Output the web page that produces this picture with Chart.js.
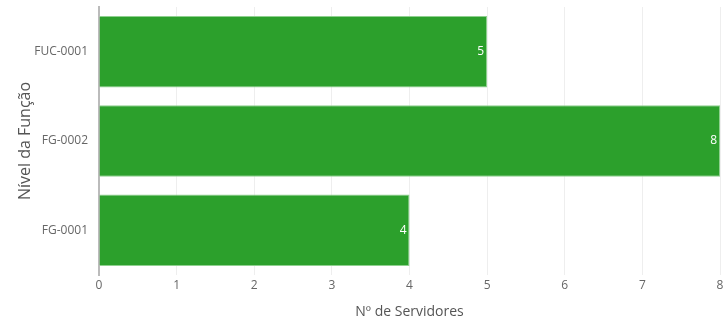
<!DOCTYPE html>
<html lang="pt">
  <head>
    <meta charset="UTF-8" />
    <title>Nº de Servidores por Nível da Função</title>
    <script src="https://cdn.jsdelivr.net/npm/chart.js"></script>
    <style>
      body {
        margin: 0;
        background: #fff;
      }
      .wrap {
        width: 725px;
        height: 320px;
      }
    </style>
  </head>
  <body>
    <div class="wrap"><canvas id="chart"></canvas></div>
    <script>
      const niveis = ["FUC-0001", "FG-0002", "FG-0001"];
      const servidores = [5, 8, 4];
      const xTicks = [0, 1, 2, 3, 4, 5, 6, 7, 8];

      const fontFamily = "'Open Sans', sans-serif";

      // white value labels at the end of each bar
      const valueLabels = {
        id: "valueLabels",
        afterDatasetsDraw(chart) {
          const ctx = chart.ctx;
          const meta = chart.getDatasetMeta(0);
          ctx.save();
          ctx.fillStyle = "#ffffff";
          ctx.font = "12px " + fontFamily;
          ctx.textAlign = "right";
          ctx.textBaseline = "middle";
          meta.data.forEach((bar, i) => {
            ctx.fillText(String(servidores[i]), bar.x - 3, bar.y);
          });
          ctx.restore();
        },
      };

      new Chart(document.getElementById("chart"), {
        type: "bar",
        data: {
          labels: niveis,
          datasets: [
            {
              data: servidores,
              backgroundColor: "#2ca02c",
              borderColor: "#8fd08f",
              borderWidth: 1,
              barPercentage: 0.8,
              categoryPercentage: 1,
            },
          ],
        },
        options: {
          indexAxis: "y",
          responsive: true,
          maintainAspectRatio: false,
          animation: false,
          layout: { padding: { top: 7, right: 5, left: 0, bottom: 0 } },
          plugins: {
            legend: { display: false },
            tooltip: { enabled: false },
          },
          scales: {
            x: {
              min: 0,
              max: 8,
              afterBuildTicks(scale) {
                scale.ticks = xTicks.map((v) => ({ value: v }));
              },
              afterFit(scale) {
                scale.height = 45;
                scale.paddingLeft = 0;
                scale.paddingRight = 0;
              },
              grid: {
                color: "#eeeeee",
                drawTicks: false,
              },
              border: { display: false },
              ticks: {
                color: "#666",
                font: { family: fontFamily, size: 12 },
                padding: 3,
              },
              title: {
                display: true,
                text: "Nº de Servidores",
                color: "#555",
                font: { family: fontFamily, size: 14 },
                padding: { top: 10, bottom: 0 },
              },
            },
            y: {
              afterFit(scale) {
                scale.width = 99;
                scale.paddingTop = 0;
                scale.paddingBottom = 0;
              },
              grid: { display: false },
              border: { display: true, color: "#bbbbbb", width: 2 },
              ticks: {
                color: "#666",
                font: { family: fontFamily, size: 12 },
                padding: 3,
              },
              title: {
                display: true,
                text: "Nível da Função",
                color: "#555",
                font: { family: fontFamily, size: 16 },
                padding: { top: 16, bottom: 0 },
              },
            },
          },
        },
        plugins: [valueLabels],
      });
    </script>
  </body>
</html>
